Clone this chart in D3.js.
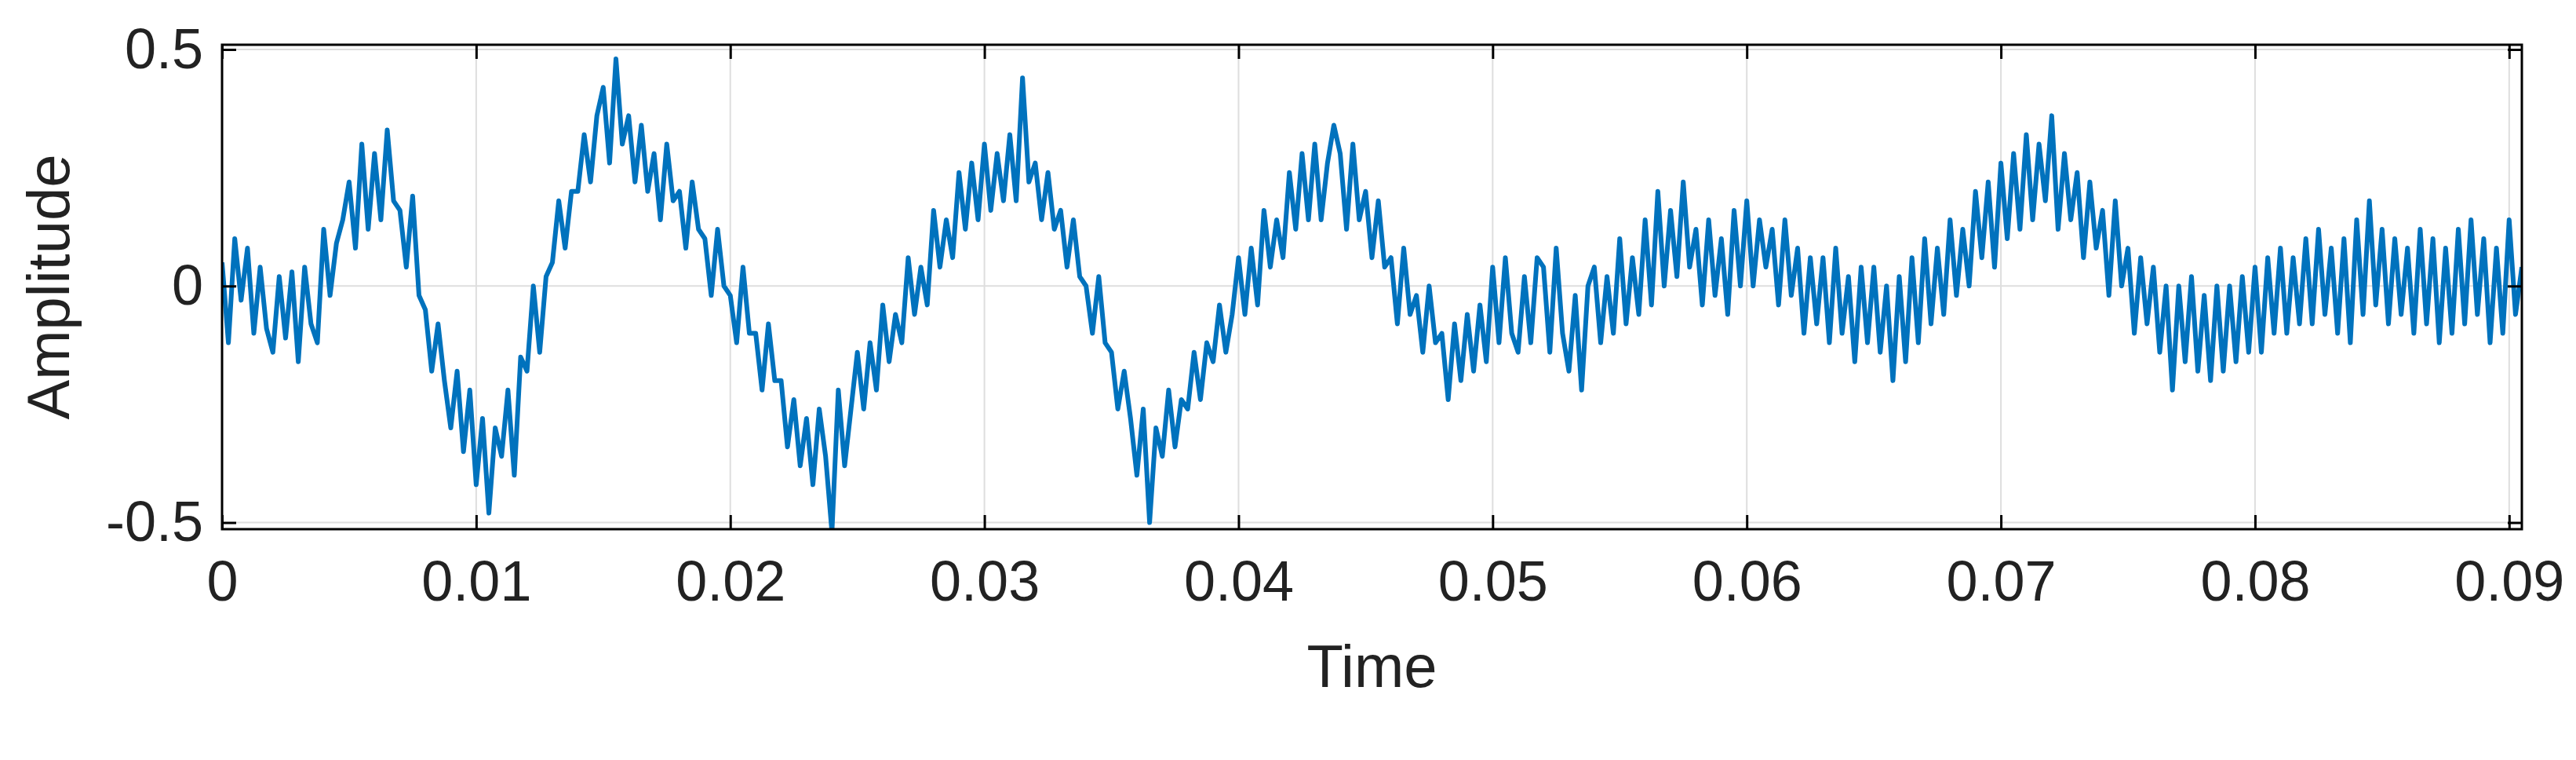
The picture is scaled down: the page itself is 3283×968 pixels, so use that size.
<!DOCTYPE html>
<html><head><meta charset="utf-8">
<script src="https://cdn.jsdelivr.net/npm/d3@7"></script>
<style>body{margin:0;background:#fff}</style></head><body>
<svg id="c" width="3283" height="968"></svg>
<script>
const dt = 0.00025;
const amplitude = [
0.05,-0.12,0.1,-0.03, 0.08,-0.1,0.04,-0.09, -0.14,0.02,-0.11,0.03, -0.16,0.04,-0.08,-0.12, 0.12,-0.02,0.09,0.14,
0.22,0.08,0.3,0.12, 0.28,0.14,0.33,0.18, 0.16,0.04,0.19,-0.02, -0.05,-0.18,-0.08,-0.2, -0.3,-0.18,-0.35,-0.22,
-0.42,-0.28,-0.48,-0.3, -0.36,-0.22,-0.4,-0.15, -0.18,0.0,-0.14,0.02, 0.05,0.18,0.08,0.2, 0.2,0.32,0.22,0.36,
0.42,0.26,0.48,0.3, 0.36,0.22,0.34,0.2, 0.28,0.14,0.3,0.18, 0.2,0.08,0.22,0.12, 0.1,-0.02,0.12,0.0,
-0.02,-0.12,0.04,-0.1, -0.1,-0.22,-0.08,-0.2, -0.2,-0.34,-0.24,-0.38, -0.28,-0.42,-0.26,-0.36, -0.52,-0.22,-0.38,-0.26,
-0.14,-0.26,-0.12,-0.22, -0.04,-0.16,-0.06,-0.12, 0.06,-0.06,0.04,-0.04, 0.16,0.04,0.14,0.06, 0.24,0.12,0.26,0.14,
0.3,0.16,0.28,0.18, 0.32,0.18,0.44,0.22, 0.26,0.14,0.24,0.12, 0.16,0.04,0.14,0.02, 0.0,-0.1,0.02,-0.12,
-0.14,-0.26,-0.18,-0.28, -0.4,-0.26,-0.5,-0.3, -0.36,-0.22,-0.34,-0.24, -0.26,-0.14,-0.24,-0.12, -0.16,-0.04,-0.14,-0.06,
0.06,-0.06,0.08,-0.04, 0.16,0.04,0.14,0.06, 0.24,0.12,0.28,0.14, 0.3,0.14,0.26,0.34, 0.28,0.12,0.3,0.14,
0.2,0.06,0.18,0.04, 0.06,-0.08,0.08,-0.06, -0.02,-0.14,0.0,-0.12, -0.1,-0.24,-0.08,-0.2, -0.06,-0.18,-0.04,-0.16,
0.04,-0.12,0.06,-0.1, -0.14,0.02,-0.12,0.06, 0.04,-0.14,0.08,-0.1, -0.18,-0.02,-0.22,0.0, 0.04,-0.12,0.02,-0.1,
0.1,-0.08,0.06,-0.06, 0.14,-0.04,0.2,0.0, 0.16,0.02,0.22,0.04, 0.12,-0.04,0.14,-0.02, 0.1,-0.06,0.16,0.0,
0.18,0.0,0.14,0.04, 0.12,-0.04,0.14,-0.02, 0.08,-0.1,0.06,-0.08, 0.06,-0.12,0.08,-0.1, 0.02,-0.16,0.04,-0.12,
0.04,-0.14,0.0,-0.2, 0.02,-0.16,0.06,-0.12, 0.1,-0.08,0.08,-0.06, 0.14,-0.02,0.12,0.0, 0.2,0.06,0.22,0.04,
0.26,0.1,0.28,0.12, 0.32,0.14,0.3,0.18, 0.36,0.12,0.28,0.14, 0.24,0.06,0.22,0.08, 0.16,-0.02,0.18,0.0,
0.08,-0.1,0.06,-0.08, 0.04,-0.14,0.0,-0.22, 0.0,-0.16,0.02,-0.18, -0.02,-0.2,0.0,-0.18, 0.0,-0.16,0.02,-0.14,
0.04,-0.14,0.06,-0.1, 0.08,-0.1,0.06,-0.08, 0.1,-0.08,0.12,-0.06, 0.08,-0.1,0.1,-0.12, 0.14,-0.06,0.18,-0.04,
0.12,-0.08,0.1,-0.06, 0.08,-0.1,0.12,-0.08, 0.1,-0.12,0.08,-0.1, 0.12,-0.08,0.14,-0.06, 0.1,-0.12,0.08,-0.1,
0.14,-0.06,0.04];
const xTicks = [0,0.01,0.02,0.03,0.04,0.05,0.06,0.07,0.08,0.09];
const yTicks = [-0.5,0,0.5];
const yTickLabels = ["-0.5","0","0.5"];

const L=283,R=3214,T=57,B=674;
const svg=d3.select("#c");
const x=d3.scaleLinear().domain([0,0.0905]).range([L,R]);
const y=d3.scaleLinear().domain([-0.514,0.51]).range([B,T]);
const font="Liberation Sans, Arial, sans-serif";
svg.append("g").selectAll("line").data(xTicks).join("line")
 .attr("x1",d=>x(d)).attr("x2",d=>x(d)).attr("y1",T).attr("y2",B).attr("stroke","#dedede").attr("stroke-width",2);
svg.append("g").selectAll("line").data(yTicks).join("line")
 .attr("x1",L).attr("x2",R).attr("y1",d=>y(d)).attr("y2",d=>y(d)).attr("stroke","#dedede").attr("stroke-width",2);
svg.append("defs").append("clipPath").attr("id","cp").append("rect").attr("x",L).attr("y",T).attr("width",R-L).attr("height",B-T);
svg.append("path").datum(amplitude).attr("clip-path","url(#cp)")
 .attr("d",d3.line().x((d,i)=>x(i*dt)).y(d=>y(d)))
 .attr("fill","none").attr("stroke","#0072BD").attr("stroke-width",6).attr("stroke-linejoin","round");
const ax=svg.append("g").attr("transform",`translate(0,${B})`).call(d3.axisBottom(x).tickValues(xTicks).tickFormat(d=>d===0?"0":d3.format(".2f")(d)).tickSizeInner(-18).tickSizeOuter(0).tickPadding(40));
const axT=svg.append("g").attr("transform",`translate(0,${T})`).call(d3.axisTop(x).tickValues(xTicks).tickFormat("").tickSizeInner(-18).tickSizeOuter(0));
const ay=svg.append("g").attr("transform",`translate(${L},0)`).call(d3.axisLeft(y).tickValues(yTicks).tickFormat((d,i)=>yTickLabels[i]).tickSizeInner(-18).tickSizeOuter(0).tickPadding(24));
const ayR=svg.append("g").attr("transform",`translate(${R},0)`).call(d3.axisRight(y).tickValues(yTicks).tickFormat("").tickSizeInner(-18).tickSizeOuter(0));
[ax,axT,ay,ayR].forEach(g=>{g.select(".domain").remove();g.selectAll("line").attr("stroke","#000").attr("stroke-width",3);
 g.selectAll("text").attr("font-family",font).attr("font-size",72).attr("fill","#222");});
svg.append("rect").attr("x",L).attr("y",T).attr("width",R-L).attr("height",B-T).attr("fill","none").attr("stroke","#000").attr("stroke-width",3);
svg.append("text").attr("x",(L+R)/2).attr("y",875).attr("text-anchor","middle").attr("font-family",font).attr("font-size",76).attr("fill","#222").text("Time");
svg.append("text").attr("transform",`translate(88,${(T+B)/2}) rotate(-90)`).attr("text-anchor","middle").attr("font-family",font).attr("font-size",76).attr("fill","#222").text("Amplitude");
</script></body></html>
